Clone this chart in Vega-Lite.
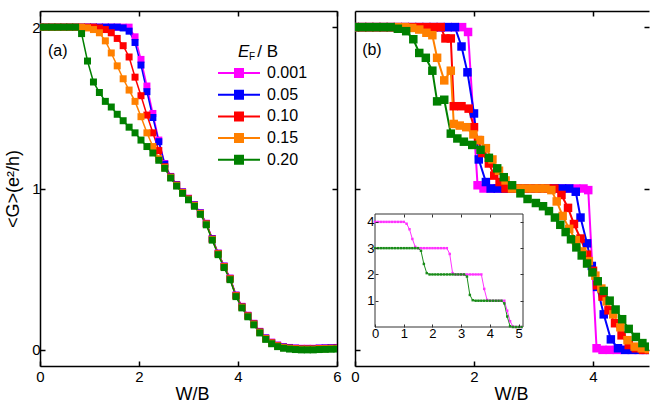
{
"$schema": "https://vega.github.io/schema/vega-lite/v6.json",
"padding": {"left": 4, "top": 10, "right": 0, "bottom": 0},
"background": "white",
"config": {
  "font": "Liberation Sans",
  "view": {"stroke": null},
  "axis": {"grid": false, "domainColor": "black", "domainWidth": 1.5, "tickColor": "black", "tickWidth": 1.5, "tickSize": -5, "labelFont": "Liberation Sans", "labelFontSize": 15, "labelColor": "black", "labelPadding": 5, "titleFont": "Liberation Sans", "titleFontSize": 18, "titleFontWeight": "normal", "titleColor": "black", "labelFlush": false, "labelOverlap": false},
  "text": {"font": "Liberation Sans", "color": "black"}
},
"datasets": {
"a": [
{"s":"0.001","W":0,"G":2},{"s":"0.001","W":0.12,"G":2},{"s":"0.001","W":0.24,"G":2},{"s":"0.001","W":0.36,"G":2},{"s":"0.001","W":0.48,"G":2},{"s":"0.001","W":0.6,"G":2},{"s":"0.001","W":0.72,"G":2},{"s":"0.001","W":0.84,"G":2},{"s":"0.001","W":0.96,"G":2},{"s":"0.001","W":1.08,"G":2},{"s":"0.001","W":1.2,"G":2},{"s":"0.001","W":1.32,"G":2},{"s":"0.001","W":1.44,"G":2},{"s":"0.001","W":1.56,"G":2},{"s":"0.001","W":1.68,"G":2},{"s":"0.001","W":1.8,"G":2},{"s":"0.001","W":1.92,"G":1.94},{"s":"0.001","W":2.04,"G":1.8},{"s":"0.001","W":2.16,"G":1.635},{"s":"0.001","W":2.28,"G":1.465},{"s":"0.001","W":2.4,"G":1.3},{"s":"0.001","W":2.52,"G":1.155},{"s":"0.001","W":2.64,"G":1.075},{"s":"0.001","W":2.76,"G":1.025},{"s":"0.001","W":2.88,"G":0.98},{"s":"0.001","W":3,"G":0.94},{"s":"0.001","W":3.12,"G":0.9},{"s":"0.001","W":3.24,"G":0.85},{"s":"0.001","W":3.36,"G":0.785},{"s":"0.001","W":3.48,"G":0.69},{"s":"0.001","W":3.6,"G":0.6},{"s":"0.001","W":3.72,"G":0.52},{"s":"0.001","W":3.84,"G":0.445},{"s":"0.001","W":3.96,"G":0.34},{"s":"0.001","W":4.08,"G":0.27},{"s":"0.001","W":4.2,"G":0.215},{"s":"0.001","W":4.32,"G":0.165},{"s":"0.001","W":4.44,"G":0.115},{"s":"0.001","W":4.56,"G":0.075},{"s":"0.001","W":4.68,"G":0.048},{"s":"0.001","W":4.8,"G":0.03},{"s":"0.001","W":4.92,"G":0.02},{"s":"0.001","W":5.04,"G":0.015},{"s":"0.001","W":5.16,"G":0.012},{"s":"0.001","W":5.28,"G":0.01},{"s":"0.001","W":5.4,"G":0.01},{"s":"0.001","W":5.52,"G":0.01},{"s":"0.001","W":5.64,"G":0.012},{"s":"0.001","W":5.76,"G":0.013},{"s":"0.001","W":5.88,"G":0.014},{"s":"0.001","W":6,"G":0.015},
{"s":"0.05","W":0,"G":2},{"s":"0.05","W":0.12,"G":2},{"s":"0.05","W":0.24,"G":2},{"s":"0.05","W":0.36,"G":2},{"s":"0.05","W":0.48,"G":2},{"s":"0.05","W":0.6,"G":2},{"s":"0.05","W":0.72,"G":2},{"s":"0.05","W":0.84,"G":2},{"s":"0.05","W":0.96,"G":2},{"s":"0.05","W":1.08,"G":2},{"s":"0.05","W":1.2,"G":2},{"s":"0.05","W":1.32,"G":2},{"s":"0.05","W":1.44,"G":2},{"s":"0.05","W":1.56,"G":2},{"s":"0.05","W":1.68,"G":1.995},{"s":"0.05","W":1.8,"G":1.975},{"s":"0.05","W":1.92,"G":1.905},{"s":"0.05","W":2.04,"G":1.765},{"s":"0.05","W":2.16,"G":1.6},{"s":"0.05","W":2.28,"G":1.44},{"s":"0.05","W":2.4,"G":1.29},{"s":"0.05","W":2.52,"G":1.15},{"s":"0.05","W":2.64,"G":1.073},{"s":"0.05","W":2.76,"G":1.023},{"s":"0.05","W":2.88,"G":0.978},{"s":"0.05","W":3,"G":0.938},{"s":"0.05","W":3.12,"G":0.898},{"s":"0.05","W":3.24,"G":0.848},{"s":"0.05","W":3.36,"G":0.783},{"s":"0.05","W":3.48,"G":0.688},{"s":"0.05","W":3.6,"G":0.598},{"s":"0.05","W":3.72,"G":0.518},{"s":"0.05","W":3.84,"G":0.443},{"s":"0.05","W":3.96,"G":0.338},{"s":"0.05","W":4.08,"G":0.268},{"s":"0.05","W":4.2,"G":0.213},{"s":"0.05","W":4.32,"G":0.163},{"s":"0.05","W":4.44,"G":0.113},{"s":"0.05","W":4.56,"G":0.073},{"s":"0.05","W":4.68,"G":0.046},{"s":"0.05","W":4.8,"G":0.028},{"s":"0.05","W":4.92,"G":0.018},{"s":"0.05","W":5.04,"G":0.013},{"s":"0.05","W":5.16,"G":0.01},{"s":"0.05","W":5.28,"G":0.008},{"s":"0.05","W":5.4,"G":0.008},{"s":"0.05","W":5.52,"G":0.008},{"s":"0.05","W":5.64,"G":0.01},{"s":"0.05","W":5.76,"G":0.011},{"s":"0.05","W":5.88,"G":0.012},{"s":"0.05","W":6,"G":0.013},
{"s":"0.10","W":0,"G":2},{"s":"0.10","W":0.12,"G":2},{"s":"0.10","W":0.24,"G":2},{"s":"0.10","W":0.36,"G":2},{"s":"0.10","W":0.48,"G":2},{"s":"0.10","W":0.6,"G":2},{"s":"0.10","W":0.72,"G":2},{"s":"0.10","W":0.84,"G":2},{"s":"0.10","W":0.96,"G":2},{"s":"0.10","W":1.08,"G":2},{"s":"0.10","W":1.2,"G":1.995},{"s":"0.10","W":1.32,"G":1.985},{"s":"0.10","W":1.44,"G":1.965},{"s":"0.10","W":1.56,"G":1.93},{"s":"0.10","W":1.68,"G":1.885},{"s":"0.10","W":1.8,"G":1.815},{"s":"0.10","W":1.92,"G":1.69},{"s":"0.10","W":2.04,"G":1.575},{"s":"0.10","W":2.16,"G":1.455},{"s":"0.10","W":2.28,"G":1.345},{"s":"0.10","W":2.4,"G":1.235},{"s":"0.10","W":2.52,"G":1.135},{"s":"0.10","W":2.64,"G":1.071},{"s":"0.10","W":2.76,"G":1.021},{"s":"0.10","W":2.88,"G":0.976},{"s":"0.10","W":3,"G":0.936},{"s":"0.10","W":3.12,"G":0.896},{"s":"0.10","W":3.24,"G":0.846},{"s":"0.10","W":3.36,"G":0.781},{"s":"0.10","W":3.48,"G":0.686},{"s":"0.10","W":3.6,"G":0.596},{"s":"0.10","W":3.72,"G":0.516},{"s":"0.10","W":3.84,"G":0.441},{"s":"0.10","W":3.96,"G":0.336},{"s":"0.10","W":4.08,"G":0.266},{"s":"0.10","W":4.2,"G":0.211},{"s":"0.10","W":4.32,"G":0.161},{"s":"0.10","W":4.44,"G":0.111},{"s":"0.10","W":4.56,"G":0.071},{"s":"0.10","W":4.68,"G":0.044},{"s":"0.10","W":4.8,"G":0.026},{"s":"0.10","W":4.92,"G":0.016},{"s":"0.10","W":5.04,"G":0.011},{"s":"0.10","W":5.16,"G":0.008},{"s":"0.10","W":5.28,"G":0.006},{"s":"0.10","W":5.4,"G":0.006},{"s":"0.10","W":5.52,"G":0.006},{"s":"0.10","W":5.64,"G":0.008},{"s":"0.10","W":5.76,"G":0.009},{"s":"0.10","W":5.88,"G":0.01},{"s":"0.10","W":6,"G":0.011},
{"s":"0.15","W":0,"G":2},{"s":"0.15","W":0.12,"G":2},{"s":"0.15","W":0.24,"G":2},{"s":"0.15","W":0.36,"G":2},{"s":"0.15","W":0.48,"G":2},{"s":"0.15","W":0.6,"G":2},{"s":"0.15","W":0.72,"G":2},{"s":"0.15","W":0.84,"G":2},{"s":"0.15","W":0.96,"G":1.995},{"s":"0.15","W":1.08,"G":1.985},{"s":"0.15","W":1.2,"G":1.965},{"s":"0.15","W":1.32,"G":1.915},{"s":"0.15","W":1.44,"G":1.84},{"s":"0.15","W":1.56,"G":1.76},{"s":"0.15","W":1.68,"G":1.68},{"s":"0.15","W":1.8,"G":1.61},{"s":"0.15","W":1.92,"G":1.54},{"s":"0.15","W":2.04,"G":1.445},{"s":"0.15","W":2.16,"G":1.345},{"s":"0.15","W":2.28,"G":1.26},{"s":"0.15","W":2.4,"G":1.185},{"s":"0.15","W":2.52,"G":1.129},{"s":"0.15","W":2.64,"G":1.069},{"s":"0.15","W":2.76,"G":1.019},{"s":"0.15","W":2.88,"G":0.974},{"s":"0.15","W":3,"G":0.934},{"s":"0.15","W":3.12,"G":0.894},{"s":"0.15","W":3.24,"G":0.844},{"s":"0.15","W":3.36,"G":0.779},{"s":"0.15","W":3.48,"G":0.684},{"s":"0.15","W":3.6,"G":0.594},{"s":"0.15","W":3.72,"G":0.514},{"s":"0.15","W":3.84,"G":0.439},{"s":"0.15","W":3.96,"G":0.334},{"s":"0.15","W":4.08,"G":0.264},{"s":"0.15","W":4.2,"G":0.209},{"s":"0.15","W":4.32,"G":0.159},{"s":"0.15","W":4.44,"G":0.109},{"s":"0.15","W":4.56,"G":0.069},{"s":"0.15","W":4.68,"G":0.042},{"s":"0.15","W":4.8,"G":0.024},{"s":"0.15","W":4.92,"G":0.014},{"s":"0.15","W":5.04,"G":0.009},{"s":"0.15","W":5.16,"G":0.006},{"s":"0.15","W":5.28,"G":0.004},{"s":"0.15","W":5.4,"G":0.004},{"s":"0.15","W":5.52,"G":0.004},{"s":"0.15","W":5.64,"G":0.006},{"s":"0.15","W":5.76,"G":0.007},{"s":"0.15","W":5.88,"G":0.008},{"s":"0.15","W":6,"G":0.009},
{"s":"0.20","W":0,"G":2},{"s":"0.20","W":0.12,"G":2},{"s":"0.20","W":0.24,"G":2},{"s":"0.20","W":0.36,"G":2},{"s":"0.20","W":0.48,"G":2},{"s":"0.20","W":0.6,"G":2},{"s":"0.20","W":0.72,"G":2},{"s":"0.20","W":0.84,"G":1.96},{"s":"0.20","W":0.96,"G":1.79},{"s":"0.20","W":1.08,"G":1.66},{"s":"0.20","W":1.2,"G":1.595},{"s":"0.20","W":1.32,"G":1.54},{"s":"0.20","W":1.44,"G":1.505},{"s":"0.20","W":1.56,"G":1.46},{"s":"0.20","W":1.68,"G":1.42},{"s":"0.20","W":1.8,"G":1.38},{"s":"0.20","W":1.92,"G":1.345},{"s":"0.20","W":2.04,"G":1.3},{"s":"0.20","W":2.16,"G":1.26},{"s":"0.20","W":2.28,"G":1.22},{"s":"0.20","W":2.4,"G":1.175},{"s":"0.20","W":2.52,"G":1.125},{"s":"0.20","W":2.64,"G":1.065},{"s":"0.20","W":2.76,"G":1.015},{"s":"0.20","W":2.88,"G":0.97},{"s":"0.20","W":3,"G":0.93},{"s":"0.20","W":3.12,"G":0.89},{"s":"0.20","W":3.24,"G":0.84},{"s":"0.20","W":3.36,"G":0.775},{"s":"0.20","W":3.48,"G":0.68},{"s":"0.20","W":3.6,"G":0.59},{"s":"0.20","W":3.72,"G":0.51},{"s":"0.20","W":3.84,"G":0.435},{"s":"0.20","W":3.96,"G":0.33},{"s":"0.20","W":4.08,"G":0.26},{"s":"0.20","W":4.2,"G":0.205},{"s":"0.20","W":4.32,"G":0.155},{"s":"0.20","W":4.44,"G":0.105},{"s":"0.20","W":4.56,"G":0.065},{"s":"0.20","W":4.68,"G":0.038},{"s":"0.20","W":4.8,"G":0.02},{"s":"0.20","W":4.92,"G":0.01},{"s":"0.20","W":5.04,"G":0.005},{"s":"0.20","W":5.16,"G":0.002},{"s":"0.20","W":5.28,"G":0},{"s":"0.20","W":5.4,"G":0},{"s":"0.20","W":5.52,"G":0},{"s":"0.20","W":5.64,"G":0.002},{"s":"0.20","W":5.76,"G":0.003},{"s":"0.20","W":5.88,"G":0.004},{"s":"0.20","W":6,"G":0.005}
],
"b": [
{"s":"0.001","W":0,"G":2},{"s":"0.001","W":0.12,"G":2},{"s":"0.001","W":0.24,"G":2},{"s":"0.001","W":0.36,"G":2},{"s":"0.001","W":0.48,"G":2},{"s":"0.001","W":0.6,"G":2},{"s":"0.001","W":0.72,"G":2},{"s":"0.001","W":0.84,"G":2},{"s":"0.001","W":0.96,"G":2},{"s":"0.001","W":1.08,"G":2},{"s":"0.001","W":1.2,"G":2},{"s":"0.001","W":1.32,"G":2},{"s":"0.001","W":1.44,"G":2},{"s":"0.001","W":1.56,"G":2},{"s":"0.001","W":1.68,"G":2},{"s":"0.001","W":1.8,"G":2},{"s":"0.001","W":1.9,"G":1.97},{"s":"0.001","W":2.06,"G":1.02},{"s":"0.001","W":2.16,"G":1},{"s":"0.001","W":2.28,"G":1},{"s":"0.001","W":2.4,"G":1},{"s":"0.001","W":2.52,"G":1},{"s":"0.001","W":2.64,"G":1},{"s":"0.001","W":2.76,"G":1},{"s":"0.001","W":2.88,"G":1},{"s":"0.001","W":3,"G":1},{"s":"0.001","W":3.12,"G":1},{"s":"0.001","W":3.24,"G":1},{"s":"0.001","W":3.36,"G":1},{"s":"0.001","W":3.48,"G":1},{"s":"0.001","W":3.6,"G":1},{"s":"0.001","W":3.72,"G":1},{"s":"0.001","W":3.84,"G":1},{"s":"0.001","W":3.92,"G":0.99},{"s":"0.001","W":4.06,"G":0.01},{"s":"0.001","W":4.16,"G":0},{"s":"0.001","W":4.28,"G":0},{"s":"0.001","W":4.4,"G":0},{"s":"0.001","W":4.52,"G":0},{"s":"0.001","W":4.64,"G":0},{"s":"0.001","W":4.76,"G":0},{"s":"0.001","W":4.88,"G":0},{"s":"0.001","W":5,"G":0},
{"s":"0.05","W":0,"G":2},{"s":"0.05","W":0.12,"G":2},{"s":"0.05","W":0.24,"G":2},{"s":"0.05","W":0.36,"G":2},{"s":"0.05","W":0.48,"G":2},{"s":"0.05","W":0.6,"G":2},{"s":"0.05","W":0.72,"G":2},{"s":"0.05","W":0.84,"G":2},{"s":"0.05","W":0.96,"G":2},{"s":"0.05","W":1.08,"G":2},{"s":"0.05","W":1.2,"G":2},{"s":"0.05","W":1.32,"G":2},{"s":"0.05","W":1.44,"G":2},{"s":"0.05","W":1.56,"G":2},{"s":"0.05","W":1.68,"G":2},{"s":"0.05","W":1.79,"G":1.88},{"s":"0.05","W":1.89,"G":1.72},{"s":"0.05","W":2,"G":1.465},{"s":"0.05","W":2.08,"G":1.18},{"s":"0.05","W":2.2,"G":1.04},{"s":"0.05","W":2.28,"G":1},{"s":"0.05","W":2.4,"G":1},{"s":"0.05","W":2.52,"G":1},{"s":"0.05","W":2.64,"G":1},{"s":"0.05","W":2.76,"G":1},{"s":"0.05","W":2.88,"G":1},{"s":"0.05","W":3,"G":1},{"s":"0.05","W":3.12,"G":1},{"s":"0.05","W":3.24,"G":1},{"s":"0.05","W":3.36,"G":1},{"s":"0.05","W":3.48,"G":1},{"s":"0.05","W":3.6,"G":1},{"s":"0.05","W":3.71,"G":0.98},{"s":"0.05","W":3.79,"G":0.82},{"s":"0.05","W":3.9,"G":0.66},{"s":"0.05","W":3.98,"G":0.52},{"s":"0.05","W":4.07,"G":0.39},{"s":"0.05","W":4.18,"G":0.22},{"s":"0.05","W":4.3,"G":0.065},{"s":"0.05","W":4.42,"G":0.01},{"s":"0.05","W":4.54,"G":0},{"s":"0.05","W":4.66,"G":0},{"s":"0.05","W":4.78,"G":0},{"s":"0.05","W":4.9,"G":0},{"s":"0.05","W":5.02,"G":0},
{"s":"0.10","W":0,"G":2},{"s":"0.10","W":0.12,"G":2},{"s":"0.10","W":0.24,"G":2},{"s":"0.10","W":0.36,"G":2},{"s":"0.10","W":0.48,"G":2},{"s":"0.10","W":0.6,"G":2},{"s":"0.10","W":0.72,"G":2},{"s":"0.10","W":0.84,"G":2},{"s":"0.10","W":0.96,"G":2},{"s":"0.10","W":1.08,"G":2},{"s":"0.10","W":1.2,"G":2},{"s":"0.10","W":1.32,"G":2},{"s":"0.10","W":1.44,"G":2},{"s":"0.10","W":1.52,"G":1.93},{"s":"0.10","W":1.61,"G":1.93},{"s":"0.10","W":1.66,"G":1.51},{"s":"0.10","W":1.79,"G":1.51},{"s":"0.10","W":1.91,"G":1.495},{"s":"0.10","W":2,"G":1.38},{"s":"0.10","W":2.07,"G":1.3},{"s":"0.10","W":2.14,"G":1.22},{"s":"0.10","W":2.25,"G":1.155},{"s":"0.10","W":2.34,"G":1.08},{"s":"0.10","W":2.43,"G":1.04},{"s":"0.10","W":2.53,"G":1},{"s":"0.10","W":2.64,"G":1},{"s":"0.10","W":2.76,"G":1},{"s":"0.10","W":2.88,"G":1},{"s":"0.10","W":3,"G":1},{"s":"0.10","W":3.12,"G":1},{"s":"0.10","W":3.24,"G":1},{"s":"0.10","W":3.35,"G":1},{"s":"0.10","W":3.47,"G":0.96},{"s":"0.10","W":3.58,"G":0.88},{"s":"0.10","W":3.68,"G":0.78},{"s":"0.10","W":3.79,"G":0.69},{"s":"0.10","W":3.9,"G":0.59},{"s":"0.10","W":4,"G":0.49},{"s":"0.10","W":4.07,"G":0.4},{"s":"0.10","W":4.16,"G":0.33},{"s":"0.10","W":4.26,"G":0.245},{"s":"0.10","W":4.37,"G":0.165},{"s":"0.10","W":4.48,"G":0.09},{"s":"0.10","W":4.6,"G":0.03},{"s":"0.10","W":4.72,"G":0.01},{"s":"0.10","W":4.84,"G":0},{"s":"0.10","W":4.96,"G":0},
{"s":"0.15","W":0,"G":2},{"s":"0.15","W":0.12,"G":2},{"s":"0.15","W":0.24,"G":2},{"s":"0.15","W":0.36,"G":2},{"s":"0.15","W":0.48,"G":2},{"s":"0.15","W":0.6,"G":2},{"s":"0.15","W":0.72,"G":2},{"s":"0.15","W":0.84,"G":2},{"s":"0.15","W":0.96,"G":1.995},{"s":"0.15","W":1.08,"G":1.985},{"s":"0.15","W":1.2,"G":1.965},{"s":"0.15","W":1.3,"G":1.95},{"s":"0.15","W":1.38,"G":1.81},{"s":"0.15","W":1.5,"G":1.67},{"s":"0.15","W":1.61,"G":1.73},{"s":"0.15","W":1.66,"G":1.4},{"s":"0.15","W":1.76,"G":1.39},{"s":"0.15","W":1.87,"G":1.38},{"s":"0.15","W":1.99,"G":1.335},{"s":"0.15","W":2.1,"G":1.3},{"s":"0.15","W":2.2,"G":1.25},{"s":"0.15","W":2.31,"G":1.18},{"s":"0.15","W":2.42,"G":1.11},{"s":"0.15","W":2.53,"G":1.05},{"s":"0.15","W":2.64,"G":1},{"s":"0.15","W":2.76,"G":1},{"s":"0.15","W":2.88,"G":1},{"s":"0.15","W":3,"G":1},{"s":"0.15","W":3.1,"G":1},{"s":"0.15","W":3.2,"G":1},{"s":"0.15","W":3.3,"G":0.99},{"s":"0.15","W":3.39,"G":0.92},{"s":"0.15","W":3.49,"G":0.83},{"s":"0.15","W":3.6,"G":0.75},{"s":"0.15","W":3.71,"G":0.68},{"s":"0.15","W":3.82,"G":0.61},{"s":"0.15","W":3.93,"G":0.55},{"s":"0.15","W":4.04,"G":0.46},{"s":"0.15","W":4.14,"G":0.38},{"s":"0.15","W":4.23,"G":0.3},{"s":"0.15","W":4.34,"G":0.22},{"s":"0.15","W":4.46,"G":0.14},{"s":"0.15","W":4.58,"G":0.06},{"s":"0.15","W":4.7,"G":0.02},{"s":"0.15","W":4.82,"G":0.01},{"s":"0.15","W":4.94,"G":0.005},
{"s":"0.20","W":0,"G":2},{"s":"0.20","W":0.12,"G":2},{"s":"0.20","W":0.24,"G":2},{"s":"0.20","W":0.36,"G":2},{"s":"0.20","W":0.48,"G":2},{"s":"0.20","W":0.6,"G":2},{"s":"0.20","W":0.72,"G":1.99},{"s":"0.20","W":0.86,"G":1.975},{"s":"0.20","W":0.98,"G":1.925},{"s":"0.20","W":1.08,"G":1.84},{"s":"0.20","W":1.19,"G":1.81},{"s":"0.20","W":1.3,"G":1.73},{"s":"0.20","W":1.38,"G":1.54},{"s":"0.20","W":1.5,"G":1.55},{"s":"0.20","W":1.61,"G":1.34},{"s":"0.20","W":1.72,"G":1.31},{"s":"0.20","W":1.83,"G":1.29},{"s":"0.20","W":1.97,"G":1.27},{"s":"0.20","W":2.11,"G":1.24},{"s":"0.20","W":2.25,"G":1.19},{"s":"0.20","W":2.39,"G":1.125},{"s":"0.20","W":2.5,"G":1.07},{"s":"0.20","W":2.64,"G":1.02},{"s":"0.20","W":2.78,"G":0.97},{"s":"0.20","W":2.9,"G":0.935},{"s":"0.20","W":3.04,"G":0.91},{"s":"0.20","W":3.16,"G":0.89},{"s":"0.20","W":3.26,"G":0.86},{"s":"0.20","W":3.36,"G":0.82},{"s":"0.20","W":3.45,"G":0.775},{"s":"0.20","W":3.54,"G":0.73},{"s":"0.20","W":3.63,"G":0.685},{"s":"0.20","W":3.72,"G":0.635},{"s":"0.20","W":3.81,"G":0.585},{"s":"0.20","W":3.9,"G":0.535},{"s":"0.20","W":3.99,"G":0.48},{"s":"0.20","W":4.08,"G":0.425},{"s":"0.20","W":4.18,"G":0.365},{"s":"0.20","W":4.28,"G":0.305},{"s":"0.20","W":4.38,"G":0.25},{"s":"0.20","W":4.49,"G":0.19},{"s":"0.20","W":4.6,"G":0.13},{"s":"0.20","W":4.72,"G":0.08},{"s":"0.20","W":4.83,"G":0.042},{"s":"0.20","W":4.94,"G":0.02},{"s":"0.20","W":5.05,"G":0.01}
],
"ins": [
{"s":"m","W":0,"G":4},{"s":"m","W":0.1,"G":4},{"s":"m","W":0.2,"G":4},{"s":"m","W":0.3,"G":4},{"s":"m","W":0.4,"G":4},{"s":"m","W":0.5,"G":4},{"s":"m","W":0.6,"G":4},{"s":"m","W":0.7,"G":4},{"s":"m","W":0.8,"G":4},{"s":"m","W":0.9,"G":4},{"s":"m","W":1,"G":4},{"s":"m","W":1.1,"G":3.93},{"s":"m","W":1.2,"G":3.72},{"s":"m","W":1.3,"G":3.35},{"s":"m","W":1.4,"G":3.05},{"s":"m","W":1.5,"G":3},{"s":"m","W":1.6,"G":3},{"s":"m","W":1.7,"G":3},{"s":"m","W":1.8,"G":3},{"s":"m","W":1.9,"G":3},{"s":"m","W":2,"G":3},{"s":"m","W":2.1,"G":3},{"s":"m","W":2.2,"G":3},{"s":"m","W":2.3,"G":3},{"s":"m","W":2.4,"G":3},{"s":"m","W":2.5,"G":3},{"s":"m","W":2.6,"G":2.78},{"s":"m","W":2.7,"G":2.05},{"s":"m","W":2.8,"G":2},{"s":"m","W":2.9,"G":2},{"s":"m","W":3,"G":2},{"s":"m","W":3.1,"G":2},{"s":"m","W":3.2,"G":2},{"s":"m","W":3.3,"G":2},{"s":"m","W":3.4,"G":2},{"s":"m","W":3.5,"G":2},{"s":"m","W":3.6,"G":2},{"s":"m","W":3.7,"G":2},{"s":"m","W":3.8,"G":1.45},{"s":"m","W":3.9,"G":1.03},{"s":"m","W":4,"G":1},{"s":"m","W":4.1,"G":1},{"s":"m","W":4.2,"G":1},{"s":"m","W":4.3,"G":1},{"s":"m","W":4.4,"G":1},{"s":"m","W":4.5,"G":1},{"s":"m","W":4.6,"G":0.62},{"s":"m","W":4.7,"G":0.22},{"s":"m","W":4.8,"G":0.02},{"s":"m","W":4.9,"G":0},{"s":"m","W":5,"G":0},{"s":"m","W":5.1,"G":0},
{"s":"g","W":0,"G":3},{"s":"g","W":0.1,"G":3},{"s":"g","W":0.2,"G":3},{"s":"g","W":0.3,"G":3},{"s":"g","W":0.4,"G":3},{"s":"g","W":0.5,"G":3},{"s":"g","W":0.6,"G":3},{"s":"g","W":0.7,"G":3},{"s":"g","W":0.8,"G":3},{"s":"g","W":0.9,"G":3},{"s":"g","W":1,"G":3},{"s":"g","W":1.1,"G":3},{"s":"g","W":1.2,"G":3},{"s":"g","W":1.3,"G":3},{"s":"g","W":1.4,"G":3},{"s":"g","W":1.5,"G":3},{"s":"g","W":1.6,"G":2.9},{"s":"g","W":1.7,"G":2.4},{"s":"g","W":1.8,"G":2.05},{"s":"g","W":1.9,"G":2},{"s":"g","W":2,"G":2},{"s":"g","W":2.1,"G":2},{"s":"g","W":2.2,"G":2},{"s":"g","W":2.3,"G":2},{"s":"g","W":2.4,"G":2},{"s":"g","W":2.5,"G":2},{"s":"g","W":2.6,"G":2},{"s":"g","W":2.7,"G":2},{"s":"g","W":2.8,"G":2},{"s":"g","W":2.9,"G":2},{"s":"g","W":3,"G":2},{"s":"g","W":3.1,"G":2},{"s":"g","W":3.2,"G":1.92},{"s":"g","W":3.3,"G":1.22},{"s":"g","W":3.4,"G":1.02},{"s":"g","W":3.5,"G":1},{"s":"g","W":3.6,"G":1},{"s":"g","W":3.7,"G":1},{"s":"g","W":3.8,"G":1},{"s":"g","W":3.9,"G":1},{"s":"g","W":4,"G":1},{"s":"g","W":4.1,"G":1},{"s":"g","W":4.2,"G":1},{"s":"g","W":4.3,"G":1},{"s":"g","W":4.4,"G":1},{"s":"g","W":4.5,"G":0.9},{"s":"g","W":4.6,"G":0.4},{"s":"g","W":4.7,"G":0.03},{"s":"g","W":4.8,"G":0},{"s":"g","W":4.9,"G":0},{"s":"g","W":5,"G":0},{"s":"g","W":5.1,"G":0}
]
},
"resolve": {"scale": {"color": "independent"}},
"bounds": "flush",
"spacing": 18,
"hconcat": [
{
  "width": 297, "height": 355,
  "data": {"name": "a"},
  "resolve": {"axis": {"x": "independent", "y": "independent"}},
  "layer": [
    {"mark": {"type": "line", "strokeWidth": 1.5, "clip": true},
     "encoding": {
       "x": {"field": "W", "type": "quantitative", "scale": {"domain": [0, 6], "nice": false}, "axis": {"orient": "bottom", "values": [0, 2, 4, 6], "title": "W/B", "titleX": 152, "titlePadding": 1, "labelPadding": 8}},
       "y": {"field": "G", "type": "quantitative", "scale": {"domain": [-0.1, 2.1], "nice": false}, "axis": {"orient": "left", "values": [0, 1, 2], "title": "<G>(e²/h)", "titlePadding": 9}},
       "color": {"field": "s", "type": "nominal", "scale": {"domain": ["0.001", "0.05", "0.10", "0.15", "0.20"], "range": ["#ff00ff", "#0000ff", "#ff0000", "#ff8000", "#008000"]},
         "legend": {"orient": "none", "legendX": 191, "legendY": 54, "title": null, "symbolType": "M-5.25,0H5.25M-1,-1H1V1H-1Z", "symbolSize": 64, "symbolStrokeWidth": 2, "labelFont": "Liberation Sans", "labelFontSize": 16, "labelColor": "black", "labelOffset": 20, "rowPadding": 5.7}}
     }},
    {"mark": {"type": "point", "shape": "square", "filled": true, "size": 49, "opacity": 1, "clip": true},
     "encoding": {
       "x": {"field": "W", "type": "quantitative", "axis": {"orient": "top", "values": [0, 2, 4, 6], "labels": false, "title": null}},
       "y": {"field": "G", "type": "quantitative", "axis": {"orient": "right", "values": [0, 1, 2], "labels": false, "title": null}},
       "color": {"field": "s", "type": "nominal"}
     }},
    {"data": {"values": [{"W": 0.16, "G": 1.85, "t": "(a)"}]},
     "mark": {"type": "text", "align": "left", "baseline": "middle", "fontSize": 16},
     "encoding": {"x": {"field": "W", "type": "quantitative", "axis": null}, "y": {"field": "G", "type": "quantitative", "axis": null}, "text": {"field": "t"}}},
    {"data": {"values": [{"W": 4.0, "G": 1.845, "t": "E"}]},
     "mark": {"type": "text", "align": "left", "baseline": "middle", "fontSize": 17, "fontStyle": "italic"},
     "encoding": {"x": {"field": "W", "type": "quantitative", "axis": null}, "y": {"field": "G", "type": "quantitative", "axis": null}, "text": {"field": "t"}}},
    {"data": {"values": [{"W": 4.22, "G": 1.815, "t": "F"}]},
     "mark": {"type": "text", "align": "left", "baseline": "middle", "fontSize": 10},
     "encoding": {"x": {"field": "W", "type": "quantitative", "axis": null}, "y": {"field": "G", "type": "quantitative", "axis": null}, "text": {"field": "t"}}},
    {"data": {"values": [{"W": 4.39, "G": 1.845, "t": "/ B"}]},
     "mark": {"type": "text", "align": "left", "baseline": "middle", "fontSize": 17},
     "encoding": {"x": {"field": "W", "type": "quantitative", "axis": null}, "y": {"field": "G", "type": "quantitative", "axis": null}, "text": {"field": "t"}}}
  ]
},
{
  "width": 294, "height": 355,
  "resolve": {"scale": {"x": "independent", "y": "independent", "color": "independent"}, "axis": {"x": "independent", "y": "independent"}},
  "layer": [
    {
      "data": {"name": "b"},
      "resolve": {"axis": {"x": "independent", "y": "independent"}},
      "layer": [
        {"mark": {"type": "line", "strokeWidth": 2, "clip": true},
         "encoding": {
           "x": {"field": "W", "type": "quantitative", "scale": {"domain": [0, 4.941], "nice": false}, "axis": {"orient": "bottom", "values": [0, 2, 4], "title": "W/B", "titleX": 156, "titlePadding": 1, "labelPadding": 8}},
           "y": {"field": "G", "type": "quantitative", "scale": {"domain": [-0.1, 2.1], "nice": false}, "axis": {"orient": "left", "values": [0, 1, 2], "labels": false, "title": null}},
           "color": {"field": "s", "type": "nominal", "scale": {"domain": ["0.001", "0.05", "0.10", "0.15", "0.20"], "range": ["#ff00ff", "#0000ff", "#ff0000", "#ff8000", "#008000"]}, "legend": null}
         }},
        {"mark": {"type": "point", "shape": "square", "filled": true, "size": 72, "opacity": 1, "clip": true},
         "encoding": {
           "x": {"field": "W", "type": "quantitative", "axis": {"orient": "top", "values": [2, 4], "labels": false, "title": null}},
           "y": {"field": "G", "type": "quantitative", "axis": {"orient": "right", "values": [0, 1, 2], "labels": false, "title": null, "domain": false}},
           "color": {"field": "s", "type": "nominal", "legend": null}
         }},
        {"data": {"values": [{"W": 0.12, "G": 1.86, "t": "(b)"}]},
         "mark": {"type": "text", "align": "left", "baseline": "middle", "fontSize": 16},
         "encoding": {"x": {"field": "W", "type": "quantitative", "axis": null}, "y": {"field": "G", "type": "quantitative", "axis": null}, "text": {"field": "t"}}}
      ]
    },
    {
      "data": {"name": "ins"},
      "resolve": {"axis": {"x": "independent", "y": "independent"}},
      "layer": [
        {"data": {"values": [{"k": 1}]},
         "mark": {"type": "rect", "fill": "white", "stroke": "#333333", "strokeWidth": 1},
         "encoding": {
           "x": {"datum": 0, "type": "quantitative", "scale": {"domain": [-0.696, 9.534], "nice": false, "zero": false}, "axis": null},
           "x2": {"datum": 5.15},
           "y": {"datum": 0, "type": "quantitative", "scale": {"domain": [-1.484, 12.025], "nice": false, "zero": false}, "axis": null},
           "y2": {"datum": 4.3}
         }},
        {"mark": {"type": "line", "strokeWidth": 1},
         "encoding": {
           "x": {"field": "W", "type": "quantitative", "axis": {"orient": "bottom", "offset": -39, "values": [0, 1, 2, 3, 4, 5], "title": null, "domain": false, "tickSize": -3, "tickWidth": 1, "tickColor": "#333333", "labelFontSize": 13, "labelPadding": 3, "zindex": 1}},
           "y": {"field": "G", "type": "quantitative", "axis": {"orient": "left", "offset": -20, "values": [1, 2, 3, 4], "title": null, "domain": false, "tickSize": -3, "tickWidth": 1, "tickColor": "#333333", "labelFontSize": 13, "labelPadding": 4, "zindex": 1}},
           "color": {"field": "s", "type": "nominal", "scale": {"domain": ["m", "g"], "range": ["#ff33ff", "#1a8c1a"]}, "legend": null}
         }},
        {"mark": {"type": "point", "shape": "square", "filled": true, "size": 6, "opacity": 1},
         "encoding": {
           "x": {"field": "W", "type": "quantitative", "axis": {"orient": "top", "offset": -203, "values": [1, 2, 3, 4], "labels": false, "title": null, "domain": false, "tickSize": -3, "tickWidth": 1, "tickColor": "#333333", "zindex": 1}},
           "y": {"field": "G", "type": "quantitative", "axis": {"orient": "right", "offset": -126, "values": [1, 2, 3, 4], "labels": false, "title": null, "domain": false, "tickSize": -3, "tickWidth": 1, "tickColor": "#333333", "zindex": 1}},
           "color": {"field": "s", "type": "nominal", "legend": null}
         }}
      ]
    }
  ]
}
]
}
